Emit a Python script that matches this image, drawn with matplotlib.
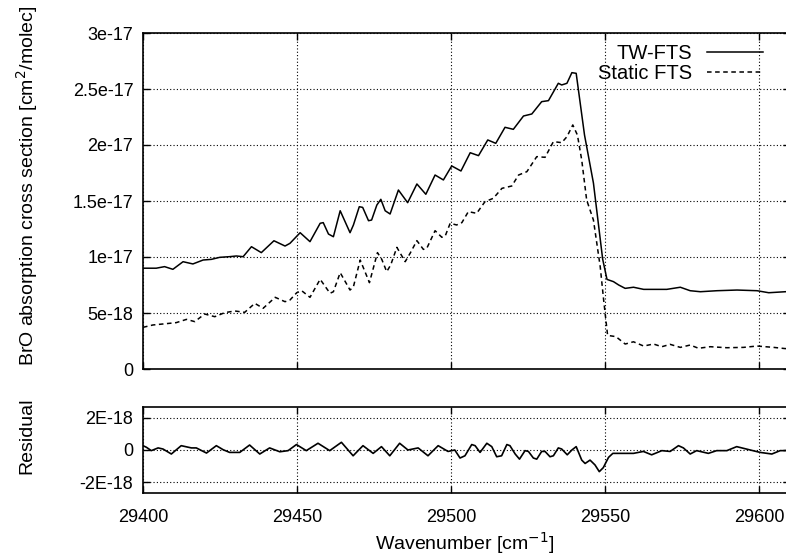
import numpy as np
import matplotlib
matplotlib.use("Agg")
import matplotlib.pyplot as plt

plt.rcParams['font.family'] = ['Liberation Sans', 'DejaVu Sans']
plt.rcParams['font.size'] = 13

# TW-FTS cross section, units of 1e-18 cm2/molec
tw_wn = [29400.0, 29404.3, 29407.0, 29409.7, 29413.0, 29416.2, 29419.5, 29422.2, 29424.9, 29428.1,
         29430.3, 29432.5, 29435.2, 29438.4, 29442.5, 29446.1, 29447.7, 29451.0, 29454.2, 29457.5,
         29458.5, 29460.2, 29461.8, 29464.0, 29467.2, 29468.3, 29470.2, 29471.3, 29473.2, 29474.2,
         29475.9, 29477.2, 29478.6, 29480.2, 29482.9, 29485.9, 29488.9, 29491.8, 29494.8, 29497.5,
         29500.2, 29503.2, 29506.2, 29508.9, 29511.9, 29514.5, 29517.5, 29520.2, 29523.5, 29526.2,
         29529.4, 29531.6, 29534.8, 29535.9, 29537.6, 29539.2, 29540.6, 29543.3, 29546.2, 29549.2,
         29550.6, 29552.7, 29554.4, 29556.5, 29559.2, 29562.5, 29570.0, 29574.4, 29577.6, 29580.9,
         29586.3, 29592.8, 29599.3, 29603.1, 29608.5, 29610.0]
tw_xs = [9.00, 9.00, 9.14, 8.90, 9.58, 9.38, 9.73, 9.79, 9.97, 10.03,
         10.09, 10.03, 10.92, 10.39, 11.45, 10.98, 11.22, 12.17, 11.37, 13.01,
         13.07, 12.05, 11.81, 14.13, 12.17, 12.86, 14.49, 14.43, 13.24, 13.30,
         14.64, 15.15, 14.13, 13.84, 15.98, 14.85, 16.52, 15.60, 17.32, 16.88,
         18.13, 17.68, 19.31, 19.05, 20.45, 20.15, 21.58, 21.40, 22.59, 22.77,
         23.87, 23.96, 25.51, 25.36, 25.51, 26.46, 26.40, 20.90, 16.60, 9.80,
         8.00, 7.80, 7.50, 7.20, 7.30, 7.11, 7.11, 7.30, 6.99, 6.90,
         6.99, 7.05, 6.99, 6.81, 6.90, 6.92]

# Static FTS cross section, units of 1e-18 cm2/molec
st_wn = [29400.0, 29403.2, 29406.5, 29410.8, 29414.1, 29416.8, 29420.0, 29423.3, 29426.5, 29429.8,
         29433.0, 29436.3, 29439.0, 29442.9, 29446.1, 29447.7, 29449.9, 29451.5, 29454.2, 29457.5,
         29460.7, 29461.8, 29464.0, 29467.2, 29468.3, 29470.5, 29473.5, 29476.1, 29477.5, 29479.1,
         29480.4, 29482.4, 29485.1, 29486.7, 29488.9, 29491.0, 29492.1, 29494.8, 29497.0, 29498.1,
         29499.7, 29501.8, 29503.5, 29505.6, 29508.3, 29511.0, 29513.7, 29516.5, 29519.7, 29521.9,
         29524.6, 29527.8, 29530.5, 29533.2, 29535.9, 29537.6, 29539.5, 29541.0, 29542.4, 29544.0,
         29546.2, 29548.4, 29549.5, 29550.8, 29553.5, 29556.5, 29559.2, 29562.5, 29565.7, 29568.4,
         29571.1, 29574.4, 29577.6, 29580.3, 29584.1, 29589.5, 29594.9, 29599.3, 29604.7, 29608.5,
         29610.0]
st_xs = [3.72, 3.93, 4.02, 4.14, 4.43, 4.23, 4.91, 4.67, 5.03, 5.18,
         5.06, 5.86, 5.42, 6.40, 6.01, 6.16, 6.81, 6.99, 6.40, 8.01,
         6.76, 6.90, 8.60, 7.05, 7.35, 9.73, 7.71, 10.39, 9.79, 8.69,
         9.29, 10.86, 9.58, 10.33, 11.46, 10.68, 10.77, 12.35, 11.76, 11.88,
         13.01, 12.86, 13.07, 14.05, 13.90, 14.94, 15.24, 16.13, 16.34, 17.32,
         17.62, 18.96, 18.90, 20.30, 20.21, 20.74, 21.79, 20.89, 18.66, 15.09,
         13.30, 9.14, 6.20, 3.00, 2.89, 2.23, 2.43, 2.05, 2.23, 1.99,
         2.20, 1.93, 2.14, 1.85, 1.99, 1.90, 1.93, 2.05, 1.93, 1.82,
         1.85]

# residual, units of 1e-18
res_wn = [29400.0, 29401.1, 29402.7, 29404.9, 29406.5, 29409.2, 29412.4, 29415.7, 29417.3, 29420.6,
          29423.8, 29426.0, 29428.1, 29431.4, 29434.6, 29437.9, 29441.1, 29444.4, 29447.1, 29449.8,
          29453.0, 29456.8, 29460.6, 29464.4, 29468.2, 29471.4, 29474.7, 29477.4, 29480.1, 29483.3,
          29486.0, 29489.3, 29492.5, 29495.8, 29499.0, 29501.2, 29502.9, 29504.5, 29506.7, 29507.8,
          29509.4, 29511.6, 29513.2, 29514.8, 29516.4, 29518.1, 29519.1, 29520.8, 29522.2, 29524.0,
          29525.1, 29526.7, 29527.8, 29529.4, 29530.5, 29532.1, 29533.2, 29534.8, 29535.9, 29537.7,
          29539.2, 29540.6, 29542.4, 29543.5, 29545.1, 29546.7, 29548.1, 29549.4, 29551.1, 29552.5,
          29554.8, 29559.2, 29562.4, 29565.1, 29568.4, 29571.1, 29573.8, 29575.4, 29577.6, 29579.7,
          29583.5, 29586.2, 29589.5, 29592.7, 29597.1, 29600.3, 29604.1, 29606.8, 29608.4, 29610.0]
res = [0.27, 0.17, -0.04, 0.13, 0.06, -0.25, 0.27, 0.13, 0.13, -0.19,
       0.27, 0.02, -0.15, -0.15, 0.31, -0.25, 0.13, -0.11, -0.04, 0.34,
       -0.04, 0.42, -0.04, 0.48, -0.36, 0.27, -0.21, 0.21, -0.36, 0.42,
       0.00, 0.13, -0.36, 0.27, -0.09, 0.00, -0.50, -0.36, 0.34, 0.27,
       -0.15, 0.42, 0.21, -0.42, -0.36, 0.34, 0.27, -0.25, -0.57, -0.04,
       -0.09, -0.50, -0.57, -0.09, -0.09, -0.42, -0.36, 0.13, 0.06, -0.30,
       0.00, 0.21, -0.63, -0.84, -0.63, -0.93, -1.35, -1.10, -0.46, -0.21,
       -0.21, -0.21, -0.09, -0.30, -0.04, -0.09, 0.27, 0.13, -0.25, -0.04,
       -0.21, -0.04, -0.04, 0.21, 0.00, -0.15, -0.25, -0.04, -0.04, 0.00]

labels = ['TW-FTS', 'Static FTS']
x_ticks = [29400, 29450, 29500, 29550, 29600]
top_ticks = [0, 5e-18, 1e-17, 1.5e-17, 2e-17, 2.5e-17, 3e-17]
top_ticklabels = ['0', '5e-18', '1e-17', '1.5e-17', '2e-17', '2.5e-17', '3e-17']
res_ticks = [-2e-18, 0, 2e-18]
res_ticklabels = ['-2E-18', '0', '2E-18']

W, H = 786, 558
fig = plt.figure(figsize=(W/100, H/100), dpi=100)

def px_box(left, top, right, bottom):
    return [left/W, 1-bottom/H, (right-left)/W, (bottom-top)/H]

ax1 = fig.add_axes(px_box(143, 33, 790, 369))
ax2 = fig.add_axes(px_box(143, 406.7, 790, 493.3))

scale = 1e-18
ax1.plot(tw_wn, np.array(tw_xs)*scale, color='k', lw=1.1, label=labels[0])
ax1.plot(st_wn, np.array(st_xs)*scale, color='k', lw=1.1, linestyle=(0, (3, 2.3)), label=labels[1])
ax2.plot(res_wn, np.array(res)*scale, color='k', lw=1.2)

ax1.set_xlim(29400, 29610)
ax1.set_ylim(0, 3e-17)
ax1.set_yticks(top_ticks)
ax1.set_yticklabels(top_ticklabels)
ax1.set_xticks(x_ticks)
ax1.set_xticklabels([])

ax2.set_xlim(29400, 29610)
ax2.set_ylim(-2.7e-18, 2.7e-18)
ax2.set_yticks(res_ticks)
ax2.set_yticklabels(res_ticklabels)
ax2.set_xticks(x_ticks)
ax2.set_xticklabels([str(t) for t in x_ticks])

for ax in (ax1, ax2):
    ax.grid(True, color='k', linestyle=(0, (1, 2)), lw=0.8)
    ax.tick_params(direction='in', length=5, width=1, top=True, right=True,
                   labelsize=13, pad=7)
    for s in ax.spines.values():
        s.set_linewidth(1.2)
ax2.tick_params(axis='x', pad=11)

leg = ax1.legend(loc='upper right', bbox_to_anchor=(763/W, 1-44/H),
                 bbox_transform=fig.transFigure, frameon=False, markerfirst=False,
                 handlelength=2.8, handletextpad=0.7, labelspacing=0.05,
                 borderpad=0, borderaxespad=0, fontsize=14.5)

fig.text(27/W, 1-366/H, 'BrO absorption cross section [cm$^2$/molec]',
         rotation=90, ha='center', va='bottom', fontsize=14)
fig.text(27/W, 1-436/H, 'Residual', rotation=90, ha='center', va='center', fontsize=14)
fig.text(465/W, 1-543/H, 'Wavenumber [cm$^{-1}$]', ha='center', va='center', fontsize=14)

fig.savefig('out.png', dpi=100)
